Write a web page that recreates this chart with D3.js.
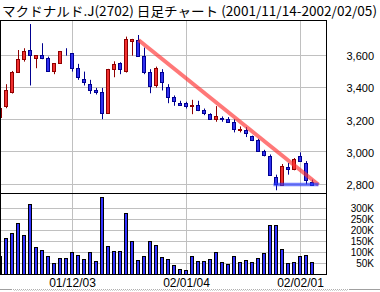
<!DOCTYPE html>
<html>
<head>
<meta charset="utf-8">
<script src="https://cdn.jsdelivr.net/npm/d3@7"></script>
<style>
body{margin:0;background:#fff;}
svg{display:block;}
</style>
</head>
<body>
<svg id="chart"></svg>
<script>
// daily candles, index 0 = 2001/11/14
var dates=["11/14","11/15","11/16","11/19","11/20","11/21","11/22","11/26","11/27","11/28","11/29","11/30",
  "12/03","12/04","12/05","12/06","12/07","12/10","12/11","12/12","12/13","12/14","12/17","12/18","12/19",
  "12/20","12/21","12/25","12/26","12/27","12/28","01/04","01/07","01/08","01/09","01/10","01/11","01/15",
  "01/16","01/17","01/18","01/21","01/22","01/23","01/24","01/25","01/28","01/29","01/30","01/31","02/01",
  "02/04","02/05"];
var openP=[3215,3281,3369,3493,3574,3629,3580,3598,3580,3499,3549,3612,3611,3518,3450,3419,3382,3369,3239,3512,3549,3497,3690,3693,3596,3497,3411,3493,3400,3338,3303,3303,3287,3289,3256,3233,3200,3208,3206,3186,3140,3136,3095,3070,3004,2975,2843,2798,2907,2893,2975,2930,2814];
var highP=[3275,3419,3501,3631,3642,3792,3600,3673,3590,3550,3625,3642,3611,3545,3497,3446,3396,3396,3514,3561,3555,3714,3700,3724,3646,3512,3528,3512,3419,3349,3316,3310,3322,3316,3268,3239,3283,3219,3215,3202,3157,3153,3100,3080,3012,2983,2858,2924,2930,2961,2996,2942,2827];
var lowP=[3210,3270,3361,3490,3559,3411,3518,3574,3499,3481,3545,3596,3497,3446,3411,3359,3355,3202,3237,3462,3481,3491,3596,3596,3481,3363,3398,3380,3301,3285,3289,3268,3233,3252,3227,3200,3186,3186,3186,3120,3120,3091,3066,3002,2971,2852,2761,2798,2858,2885,2942,2798,2798];
var closeP=[3270,3382,3493,3574,3623,3598,3598,3580,3499,3549,3623,3610,3518,3462,3431,3382,3369,3239,3512,3543,3512,3697,3700,3596,3497,3411,3518,3431,3338,3314,3289,3283,3291,3260,3239,3202,3219,3204,3186,3140,3144,3116,3070,3004,2977,2856,2798,2913,2895,2955,2942,2823,2798];
var volumeK=[83,164,186,232,177,318,123,109,82,50,73,73,100,86,68,100,59,350,127,105,105,277,150,64,82,150,132,77,68,41,23,18,82,59,59,68,100,55,45,82,55,64,55,73,95,224,224,114,50,55,82,86,55];

var priceTicks=[2800,3000,3200,3400,3600];
var volTicks=[50,100,150,200,250,300];
var dateTicks=[12,31,50];
var dateTickLabels=["01/12/03","02/01/04","02/02/01"];

var trendX=[23,53], trendY=[3693,2795];
var supportX=[45.5,53], supportY=[2797,2797];

var title="マクドナルド.J(2702) 日足チャート (2001/11/14-2002/02/05)";

var W=380,H=292;
var svg=d3.select("#chart").attr("width",W).attr("height",H);

// panel edges
var pLeft=0, pRight=326, pTop=20, pMid=193, pBottom=274;

var x=d3.scaleLinear().domain([0,52]).range([0.5,312.5]);
var y=d3.scaleLinear().domain([2800,3600]).range([184,55]);
var yv=d3.scaleLinear().domain([0,300]).range([274,208]);

var crisp=function(v){return Math.floor(v)+0.5;};

svg.append("text")
  .attr("x",2).attr("y",16)
  .attr("font-family","'Noto Sans CJK JP', sans-serif")
  .attr("font-size",13)
  .attr("textLength",375).attr("lengthAdjust","spacingAndGlyphs")
  .attr("fill","#000")
  .text(title);

var plot=svg.append("g");

// grid
plot.selectAll(".pg").data(priceTicks).enter().append("line")
  .attr("x1",pLeft).attr("x2",pRight)
  .attr("y1",function(d){return crisp(y(d));})
  .attr("y2",function(d){return crisp(y(d));})
  .attr("stroke","#c0c0c0");
plot.selectAll(".vg").data(volTicks).enter().append("line")
  .attr("x1",pLeft).attr("x2",pRight)
  .attr("y1",function(d){return crisp(yv(d));})
  .attr("y2",function(d){return crisp(yv(d));})
  .attr("stroke","#c0c0c0");
plot.selectAll(".xg").data(dateTicks).enter().append("line")
  .attr("x1",function(d){return x(d);}).attr("x2",function(d){return x(d);})
  .attr("y1",pTop).attr("y2",pBottom)
  .attr("stroke","#c0c0c0");

svg.append("clipPath").attr("id","pc").append("rect")
  .attr("x",pLeft+0.5).attr("y",pTop).attr("width",pRight-pLeft).attr("height",pBottom-pTop);
var marks=svg.append("g").attr("clip-path","url(#pc)");

var idx=d3.range(dates.length);
var up=function(i){return closeP[i]>=openP[i];};
var edge=function(i){return up(i)?"#900000":"#000090";};
var fill=function(i){return up(i)?"#f03030":"#3030f0";};

// wicks
marks.selectAll(".wick").data(idx).enter().append("line")
  .attr("x1",function(i){return x(i);}).attr("x2",function(i){return x(i);})
  .attr("y1",function(i){return y(highP[i]);})
  .attr("y2",function(i){return y(lowP[i]);})
  .attr("stroke",edge).attr("stroke-width",1);

// bodies
marks.selectAll(".body").data(idx).enter().append("rect")
  .attr("x",function(i){return x(i)-2;})
  .attr("width",3)
  .attr("y",function(i){return Math.round(y(Math.max(openP[i],closeP[i])))+0.5;})
  .attr("height",function(i){return Math.round(Math.abs(y(openP[i])-y(closeP[i])));})
  .attr("fill",fill).attr("stroke",edge).attr("stroke-width",1);

// volume
marks.selectAll(".vol").data(idx).enter().append("rect")
  .attr("x",function(i){return x(i)-2;})
  .attr("width",3)
  .attr("y",function(i){return Math.round(yv(volumeK[i]))+0.5;})
  .attr("height",function(i){return pBottom-Math.round(yv(volumeK[i]));})
  .attr("fill","#3333ff").attr("stroke","#000").attr("stroke-width",1);

// trend lines
var tl=d3.line().x(function(d){return x(d[0]);}).y(function(d){return y(d[1]);});
marks.append("path").attr("d",tl(d3.zip(trendX,trendY)))
  .attr("stroke","#ff3030").attr("stroke-opacity",0.65).attr("stroke-width",4).attr("fill","none");
marks.append("path").attr("d",tl(d3.zip(supportX,supportY)))
  .attr("stroke","#2a3aff").attr("stroke-opacity",0.65).attr("stroke-width",3.5).attr("fill","none");

// frame
svg.append("rect").attr("x",pLeft+0.5).attr("y",pTop+0.5)
  .attr("width",pRight-pLeft).attr("height",pBottom-pTop)
  .attr("fill","none").attr("stroke","#000");
svg.append("line").attr("x1",pLeft).attr("x2",pRight+1)
  .attr("y1",pMid+0.5).attr("y2",pMid+0.5).attr("stroke","#000");

// labels
var fmt=d3.format(",");
svg.selectAll(".pl").data(priceTicks).enter().append("text")
  .attr("x",374).attr("y",function(d){return y(d)+5;})
  .attr("text-anchor","end")
  .attr("font-family","'Liberation Sans', Arial, sans-serif")
  .attr("font-size",11).attr("fill","#000")
  .text(function(d){return fmt(d);});
svg.selectAll(".vl").data(volTicks).enter().append("text")
  .attr("x",374).attr("y",function(d){return yv(d)+3.5;})
  .attr("text-anchor","end")
  .attr("font-family","'Liberation Sans', Arial, sans-serif")
  .attr("font-size",10).attr("fill","#000")
  .text(function(d){return d+"K";});
svg.selectAll(".dl").data(dateTicks).enter().append("text")
  .attr("x",function(d){return x(d);}).attr("y",287)
  .attr("text-anchor","middle")
  .attr("font-family","'Liberation Sans', Arial, sans-serif")
  .attr("font-size",12).attr("fill","#000")
  .text(function(d,k){return dateTickLabels[k];});

// scrollbar strip at bottom
svg.append("line").attr("x1",0).attr("x2",12).attr("y1",289.5).attr("y2",289.5).attr("stroke","#a0a0a0");
svg.append("line").attr("x1",13).attr("x2",348).attr("y1",289.5).attr("y2",289.5)
  .attr("stroke","#b0b0b0").attr("stroke-dasharray","1,1");
svg.append("line").attr("x1",13).attr("x2",348).attr("y1",290.5).attr("y2",290.5)
  .attr("stroke","#d0d0d0").attr("stroke-dasharray","1,1").attr("stroke-dashoffset",1);
svg.append("line").attr("x1",349).attr("x2",380).attr("y1",289.5).attr("y2",289.5).attr("stroke","#a0a0a0");
</script>
</body>
</html>
